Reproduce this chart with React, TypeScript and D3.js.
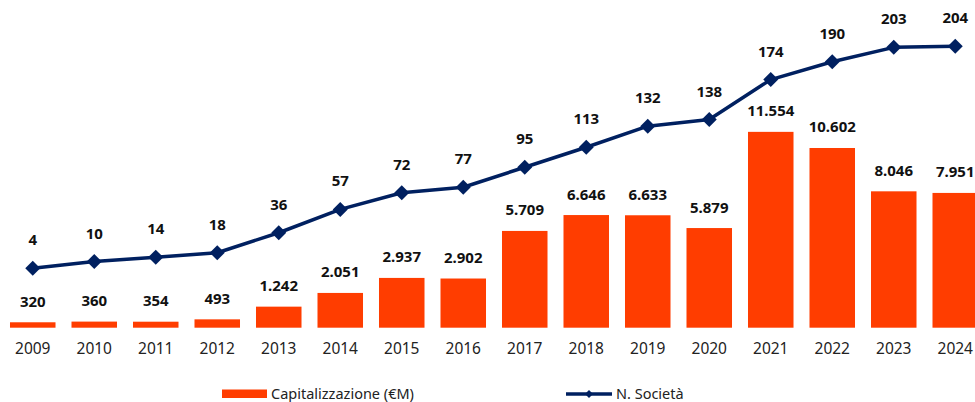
import React from "react";
import * as d3 from "d3";

const years = ["2009","2010","2011","2012","2013","2014","2015","2016","2017","2018","2019","2020","2021","2022","2023","2024"];
const capitalizzazione = [320,360,354,493,1242,2051,2937,2902,5709,6646,6633,5879,11554,10602,8046,7951];
const societa = [4,10,14,18,36,57,72,77,95,113,132,138,174,190,203,204];
const barLegend = "Capitalizzazione (€M)";
const lineLegend = "N. Società";

const W = 975, H = 402;
const BAR_COLOR = "#FF3D00";
const LINE_COLOR = "#002060";
const FONT = "'Century Gothic', 'Noto Sans', sans-serif";

const fmt = (v: number) => {
  const s = String(v);
  return s.replace(/\B(?=(\d{3})+(?!\d))/g, ".");
};

export default function App() {
  const x = d3.scaleBand<string>().domain(years).range([2, 986]).paddingInner(0.26).paddingOuter(0.13);
  const yBar = d3.scaleLinear().domain([0, 14000]).range([327.7, 327.7 - 14000 * 0.01695]);
  const yLine = d3.scaleLinear().domain([0, 250]).range([272.7, 272.7 - 250 * 1.11]);
  const cx = (y: string) => (x(y) as number) + x.bandwidth() / 2;

  const line = d3.line<number>().x((_, i) => cx(years[i])).y((d) => yLine(d));
  const diamond = (px: number, py: number, r: number) =>
    `M${px},${py - r}L${px + r},${py}L${px},${py + r}L${px - r},${py}Z`;

  return (
    <div style={{ position: "absolute", left: 0, top: 0 }}>
      <svg width={W} height={H} style={{ display: "block", background: "#fff" }} fontFamily={FONT}>
        {years.map((yr, i) => (
          <rect key={yr} x={x(yr)} y={yBar(capitalizzazione[i])} width={x.bandwidth()}
            height={yBar(0) - yBar(capitalizzazione[i])} fill={BAR_COLOR} />
        ))}
        {years.map((yr, i) => (
          <text key={"bl" + yr} x={cx(yr)} y={yBar(capitalizzazione[i]) - 15.5} textAnchor="middle"
            fontSize={15} fontWeight="bold" fill="#111">{fmt(capitalizzazione[i])}</text>
        ))}
        <path d={line(societa) as string} fill="none" stroke={LINE_COLOR} strokeWidth={3.5} strokeLinejoin="round" />
        {years.map((yr, i) => (
          <path key={"m" + yr} d={diamond(cx(yr), yLine(societa[i]), 7.5)} fill={LINE_COLOR} />
        ))}
        {years.map((yr, i) => (
          <text key={"ll" + yr} x={cx(yr)} y={yLine(societa[i]) - 23} textAnchor="middle"
            fontSize={15} fontWeight="bold" fill="#111">{societa[i]}</text>
        ))}
        {years.map((yr) => (
          <text key={"t" + yr} x={cx(yr)} y={353.5} textAnchor="middle" fontSize={15.5} fill="#222">{yr}</text>
        ))}
        <rect x={222} y={389.5} width={45} height={8.5} fill={BAR_COLOR} />
        <text x={271} y={398.5} fontSize={14.5} fill="#222">{barLegend}</text>
        <line x1={566} x2={612} y1={394} y2={394} stroke={LINE_COLOR} strokeWidth={3.5} />
        <path d={diamond(589, 394, 4)} fill={LINE_COLOR} />
        <text x={616} y={398.5} fontSize={14.5} fill="#222">{lineLegend}</text>
      </svg>
    </div>
  );
}
